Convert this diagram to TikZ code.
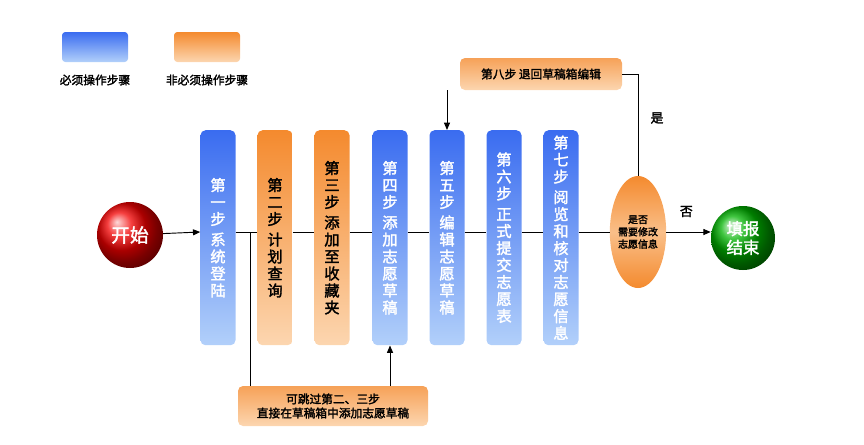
\documentclass[tikz,border=0pt]{standalone}
\usepackage{fontspec}
\setmainfont{Noto Sans CJK SC}[AutoFakeBold=2]
\usetikzlibrary{shapes.geometric,arrows.meta}
\definecolor{bluedark}{HTML}{3A6CF0}
\definecolor{bluelight}{HTML}{B2D0FA}
\definecolor{orgdark}{HTML}{F48A2E}
\definecolor{orglight}{HTML}{FCD6B0}

\begin{document}
\begin{tikzpicture}[x=0.03cm, y=-0.03cm,
	bluebox/.style={rounded corners=1.5mm, minimum width=35*0.03cm, minimum height=215*0.03cm, top color=bluedark, bottom color=bluelight, text=white, font=\bfseries\fontsize{13}{14.5}\selectfont, align=center, inner sep=0pt, anchor=north},
	orgbox/.style={bluebox, top color=orgdark, bottom color=orglight, text=black},
	notebox/.style={rounded corners=1.5mm, top color=orgdark!80, bottom color=orglight, font=\bfseries\fontsize{10}{12}\selectfont, align=center},
	link/.style={line width=0.8pt},
	tip/.style={link, -{Triangle[length=2.2mm, width=1.8mm]}},
	]
	\useasboundingbox (0,0) rectangle (864,444);

	% legend
	\node[bluebox, minimum height=30*0.03cm, minimum width=66*0.03cm, rounded corners=1mm, anchor=center] (legblue) at (95,47) {};
	\node[orgbox, minimum height=30*0.03cm, minimum width=66*0.03cm, rounded corners=1mm, anchor=center] (legorg) at (207,47) {};
	\node[font=\bfseries\fontsize{10}{11}\selectfont] (legbluetxt) at (95,80) {必须操作步骤};
	\node[font=\bfseries\fontsize{10}{11}\selectfont] (legorgtxt) at (207,80) {非必须操作步骤};

	% steps
	\node[circle, minimum size=66*0.03cm, inner sep=0pt, ball color=red!95!black, text=white, font=\bfseries\fontsize{16}{17}\selectfont] (start) at (130,235) {开始};
	\node[bluebox] (step1) at (218,130) {第\\一\\步\\[3pt]系\\统\\登\\陆};
	\node[orgbox] (step2) at (275,130) {第\\二\\步\\[3pt]计\\划\\查\\询};
	\node[orgbox] (step3) at (332,130) {第\\三\\步\\[3pt]添\\加\\至\\收\\藏\\夹};
	\node[bluebox] (step4) at (390,130) {第\\四\\步\\[3pt]添\\加\\志\\愿\\草\\稿};
	\node[bluebox] (step5) at (447,130) {第\\五\\步\\[3pt]编\\辑\\志\\愿\\草\\稿};
	\node[bluebox] (step6) at (504,130) {第\\六\\步\\[3pt]正\\式\\提\\交\\志\\愿\\表};
	\node[bluebox] (step7) at (561,130) {第\\七\\步\\[3pt]阅\\览\\和\\核\\对\\志\\愿\\信\\息};
	\node[ellipse, minimum width=52*0.03cm, minimum height=112*0.03cm, inner sep=0pt, top color=orgdark, bottom color=orgdark, middle color=orglight!70!orgdark, font=\bfseries\fontsize{8.5}{10.5}\selectfont, align=center] (check) at (638,232) {是否\\需要修改\\志愿信息};
	\node[circle, minimum size=64*0.03cm, inner sep=0pt, ball color=green!70!black, text=white, font=\bfseries\fontsize{14}{16}\selectfont, align=center] (finish) at (743,238) {填报\\结束};

	\node[notebox, minimum width=162*0.03cm, minimum height=32*0.03cm] (back) at (541,74) {第八步\ 退回草稿箱编辑};
	\node[notebox, minimum width=190*0.03cm, minimum height=40*0.03cm] (skip) at (333,406) {可跳过第二、三步\\直接在草稿箱中添加志愿草稿};

	% connectors
	\draw[tip] (start) -- (step1.west |- 0,232);
	\foreach \a/\b in {step1/step2, step2/step3, step3/step4, step4/step5, step5/step6, step6/step7, step7/check}
		\draw[link] (\a.east |- 0,232) -- (\b.west |- 0,232);
	\draw[tip] (check.east |- 0,232) -- (finish.west |- 0,232) node[pos=0.45, above=9pt, font=\bfseries\fontsize{11}{12}\selectfont] {否};
	\draw[link] (check.north) -- (638,74) -- (back.east);
	\node[font=\bfseries\fontsize{11}{12}\selectfont] (yes) at (657,118) {是};
	\draw[tip] (back.south -| 447,0) -- (step5.north);
	\coordinate (branch) at (250,232);
	\draw[link] (branch) -- (branch |- skip.north);
	\draw[tip] (skip.north -| step4) -- (step4.south);
\end{tikzpicture}
\end{document}
